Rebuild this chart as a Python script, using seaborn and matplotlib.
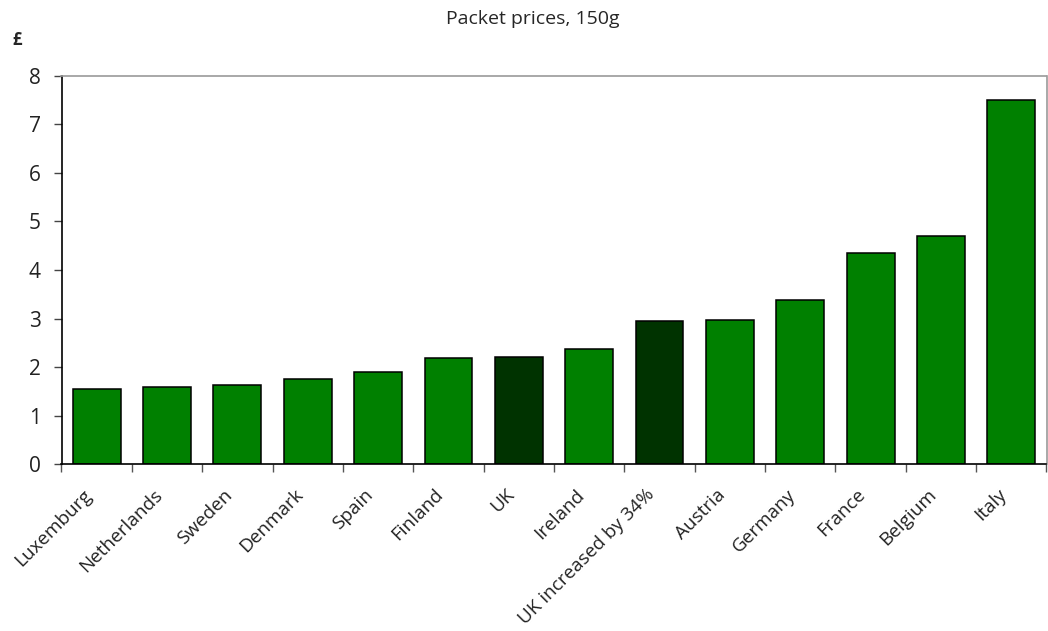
import matplotlib
matplotlib.use("Agg")
import matplotlib.pyplot as plt
import matplotlib.transforms as mtransforms
import seaborn as sns
import pandas as pd
import numpy as np
from matplotlib.ticker import FixedLocator

countries = ["Luxemburg", "Netherlands", "Sweden", "Denmark", "Spain", "Finland", "UK",
             "Ireland", "UK increased by 34%", "Austria", "Germany", "France", "Belgium", "Italy"]
prices = [1.55, 1.59, 1.64, 1.76, 1.89, 2.18, 2.20, 2.37, 2.95, 2.97, 3.39, 4.36, 4.70, 7.51]
highlight = ["UK", "UK increased by 34%"]

sns.set_theme(style="white")
plt.rcParams["font.family"] = ["Open Sans", "DejaVu Sans"]

df = pd.DataFrame({"country": countries, "price": prices})
palette = {c: ("#003300" if c in highlight else "#008000") for c in countries}

fig = plt.figure(figsize=(10.48, 6.31), dpi=100)
ax = fig.add_axes([61.5 / 1048, 1 - 464.3 / 631, (1046.5 - 61.5) / 1048, (464.3 - 75.7) / 631])
sns.barplot(data=df, x="country", y="price", hue="country", palette=palette,
            legend=False, width=0.68, edgecolor="black", linewidth=1.1, saturation=1, ax=ax)

ax.set_ylim(0, 8)
ax.set_xlim(-0.5, len(countries) - 0.5)
ax.set_yticks(range(0, 9))
ax.set_xlabel("")
ax.set_ylabel("")
ax.tick_params(axis="y", which="both", left=True, length=6, width=1, color="#444444",
               labelsize=15, pad=9, direction="out", labelcolor="#222222")
ax.tick_params(axis="x", which="major", length=0, labelsize=13.6, pad=6, labelcolor="#222222")
ax.xaxis.set_minor_locator(FixedLocator(np.arange(-0.5, len(countries), 1.0)))
ax.tick_params(axis="x", which="minor", bottom=True, length=6, width=1, color="#555555", direction="out")

shift = mtransforms.ScaledTranslation(-14 / 100, -13 / 100, fig.dpi_scale_trans)
for lab in ax.get_xticklabels():
    lab.set_rotation(45)
    lab.set_ha("right")
    lab.set_rotation_mode("anchor")
    lab.set_transform(lab.get_transform() + shift)

for side in ["left", "bottom"]:
    ax.spines[side].set_color("black")
    ax.spines[side].set_linewidth(1.2)
for side in ["top", "right"]:
    ax.spines[side].set_visible(True)
    ax.spines[side].set_color("#999999")
    ax.spines[side].set_linewidth(1.2)

fig.text(0.508, 0.97, "Packet prices, 150g", ha="center", va="center", fontsize=14)
fig.text(0.012, 0.937, "£", ha="left", va="center", fontsize=12, fontweight="bold")

fig.savefig("out.png", dpi=100)
